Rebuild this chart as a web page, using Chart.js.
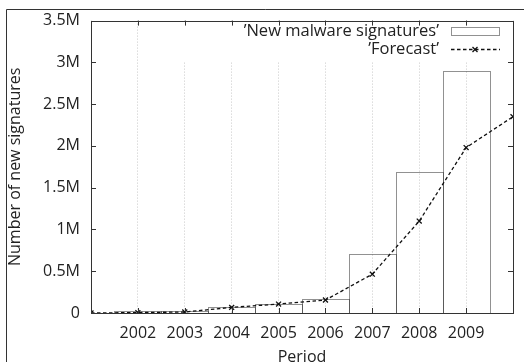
<!DOCTYPE html>
<html>
<head>
<meta charset="utf-8">
<script src="https://cdn.jsdelivr.net/npm/chart.js@4.4.1/dist/chart.umd.min.js"></script>
<style>
  html, body { margin: 0; padding: 0; background: #fff; overflow: hidden; }
</style>
</head>
<body>
<canvas id="chart" width="524" height="362"></canvas>
<script>
// values in millions of signatures
const years = [2001, 2002, 2003, 2004, 2005, 2006, 2007, 2008, 2009, 2010];
const signatureYears = [2002, 2003, 2004, 2005, 2006, 2007, 2008, 2009];
const signatures = [0.020, 0.019, 0.075, 0.113, 0.167, 0.709, 1.691, 2.896];
const forecast = [0, 0.005, 0.012, 0.067, 0.107, 0.155, 0.465, 1.10, 1.98, 2.35];
const yTickLabels = ['0', '0.5M', '1M', '1.5M', '2M', '2.5M', '3M', '3.5M'];
const xTickLabels = ['', '2002', '2003', '2004', '2005', '2006', '2007', '2008', '2009', ''];

const FONT = '"Open Sans", "Noto Sans", sans-serif';
const INK = '#222';
const LINE = '#333';

const gnuplotLook = {
  id: 'gnuplotLook',
  beforeDraw(chart) {
    const ctx = chart.ctx;
    ctx.save();
    ctx.fillStyle = '#fff';
    ctx.fillRect(0, 0, chart.width, chart.height);
    // outer page frame
    ctx.strokeStyle = LINE;
    ctx.lineWidth = 1;
    ctx.beginPath();
    ctx.moveTo(6.5, chart.height);
    ctx.lineTo(6.5, 9.5);
    ctx.lineTo(chart.width, 9.5);
    ctx.stroke();
    ctx.restore();
  },
  afterDatasetDraw(chart, args) {
    if (args.meta.type !== 'bar') return;
    const ctx = chart.ctx;
    ctx.save();
    ctx.strokeStyle = '#222';
    ctx.lineWidth = 1;
    ctx.setLineDash([1, 1]);
    args.meta.data.forEach(bar => {
      const p = bar.getProps(['x', 'y', 'base', 'width'], true);
      const l = Math.round(p.x - p.width / 2) + 0.5;
      const r = Math.round(p.x + p.width / 2) + 0.5;
      const t = Math.round(p.y) + 0.5;
      const b = Math.round(p.base) + 0.5;
      ctx.beginPath();
      ctx.moveTo(l, b);
      ctx.lineTo(l, t);
      ctx.lineTo(r, t);
      ctx.lineTo(r, b);
      ctx.stroke();
    });
    ctx.restore();
  },
  afterDraw(chart) {
    const ctx = chart.ctx;
    const {left, right, top, bottom} = chart.chartArea;
    const xs = chart.scales.x, ys = chart.scales.y;
    ctx.save();

    // legend box (opaque)
    ctx.fillStyle = '#fff';
    ctx.fillRect(150, top + 1, right - 151, 40);

    // frame
    ctx.strokeStyle = LINE;
    ctx.lineWidth = 1;
    ctx.strokeRect(Math.round(left) + 0.5, Math.round(top) + 0.5,
                   Math.round(right - left), Math.round(bottom - top));

    // inward ticks
    ctx.beginPath();
    xs.ticks.forEach(t => {
      if (t.value === xs.min || t.value === xs.max) return;
      const px = Math.round(xs.getPixelForValue(t.value)) + 0.5;
      ctx.moveTo(px, bottom); ctx.lineTo(px, bottom - 5);
      ctx.moveTo(px, top); ctx.lineTo(px, top + 5);
    });
    ys.ticks.forEach(t => {
      if (t.value === ys.min || t.value === ys.max) return;
      const py = Math.round(ys.getPixelForValue(t.value)) + 0.5;
      ctx.moveTo(left, py); ctx.lineTo(left + 5, py);
      ctx.moveTo(right, py); ctx.lineTo(right - 5, py);
    });
    ctx.stroke();

    // legend
    ctx.fillStyle = INK;
    ctx.font = '16.5px ' + FONT;
    ctx.textAlign = 'right';
    ctx.textBaseline = 'middle';
    ctx.fillText('\u2019New malware signatures\u2019', 439, 31);
    ctx.fillText('\u2019Forecast\u2019', 439, 49);

    ctx.strokeStyle = '#222';
    ctx.setLineDash([1, 1]);
    ctx.strokeRect(451.5, 27.5, 48, 8);

    ctx.strokeStyle = '#111';
    ctx.lineWidth = 1.3;
    ctx.setLineDash([3.5, 2.5]);
    ctx.beginPath();
    ctx.moveTo(451, 49.5); ctx.lineTo(500, 49.5);
    ctx.stroke();
    ctx.setLineDash([]);
    ctx.beginPath();
    ctx.moveTo(472.5, 47); ctx.lineTo(477.5, 52);
    ctx.moveTo(477.5, 47); ctx.lineTo(472.5, 52);
    ctx.stroke();

    // axis titles
    ctx.fillStyle = INK;
    ctx.font = '16px ' + FONT;
    ctx.textAlign = 'center';
    ctx.fillText('Period', (left + right) / 2, 357);
    ctx.translate(15, (top + bottom) / 2);
    ctx.rotate(-Math.PI / 2);
    ctx.fillText('Number of new signatures', 0, 0);
    ctx.restore();
  }
};

new Chart(document.getElementById('chart'), {
  type: 'bar',
  data: {
    datasets: [
      {
        type: 'bar',
        label: 'New malware signatures',
        data: signatureYears.map((x, i) => ({x: x, y: signatures[i]})),
        backgroundColor: 'rgba(0,0,0,0)',
        borderWidth: 0,
        categoryPercentage: 1,
        barPercentage: 1,
        order: 1
      },
      {
        type: 'line',
        label: 'Forecast',
        data: years.map((x, i) => ({x: x, y: forecast[i]})),
        borderColor: '#111',
        borderWidth: 1.3,
        borderDash: [3.5, 2.5],
        fill: false,
        tension: 0,
        pointStyle: 'crossRot',
        pointRadius: 3.5,
        pointBorderWidth: 1.3,
        pointBorderColor: '#111',
        order: 0
      }
    ]
  },
  options: {
    responsive: false,
    animation: false,
    devicePixelRatio: 1,
    layout: {padding: {left: 0, right: 1, top: 17, bottom: 0}},
    plugins: {legend: {display: false}, tooltip: {enabled: false}},
    scales: {
      x: {
        type: 'linear',
        min: 2001,
        max: 2010,
        offset: false,
        afterFit: s => { s.height = 49; },
        ticks: {
          stepSize: 1,
          autoSkip: false,
          maxRotation: 0,
          padding: 11,
          color: INK,
          font: {family: FONT, size: 16},
          callback: (v, i) => xTickLabels[i]
        },
        grid: {color: '#c8c8c8', offset: false, drawTicks: false},
        border: {display: false, dash: [1, 2]}
      },
      y: {
        min: 0,
        max: 3.5,
        afterFit: s => { s.width = 91; },
        ticks: {
          stepSize: 0.5,
          padding: 11,
          color: INK,
          font: {family: FONT, size: 16},
          callback: (v, i) => yTickLabels[i]
        },
        grid: {display: false, drawTicks: false},
        border: {display: false}
      }
    }
  },
  plugins: [gnuplotLook]
});
</script>
</body>
</html>
